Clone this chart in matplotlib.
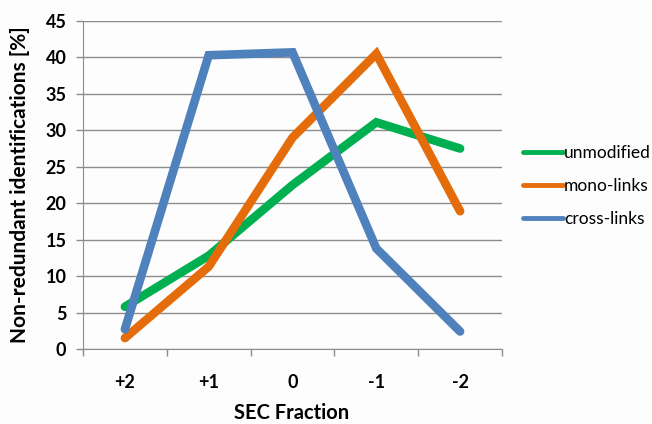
import matplotlib
matplotlib.use("Agg")
import matplotlib.pyplot as plt
import numpy as np

# SEC fractions
fractions = ["+2", "+1", "0", "-1", "-2"]

unmodified = [5.8, 12.8, 22.5, 31.1, 27.5]
mono_links = [1.5, 11.3, 29.0, 40.5, 18.9]
cross_links = [2.7, 40.3, 40.7, 13.8, 2.4]

series_names = ["unmodified", "mono-links", "cross-links"]
colors = ["#00B050", "#E46C0A", "#4F81BD"]

plt.rcParams["font.family"] = ["Lato", "DejaVu Sans"]

fig = plt.figure(figsize=(6.52, 4.24), dpi=100)
fig.patch.set_facecolor("#FDFDFD")
ax = fig.add_axes([83 / 652, 1 - 349 / 424, (502 - 83) / 652, (349 - 21) / 424])
ax.set_facecolor("#FDFDFD")

x = np.arange(len(fractions))
for vals, name, c in zip([unmodified, mono_links, cross_links], series_names, colors):
    ax.plot(x, vals, color=c, lw=6.2, label=name, solid_capstyle="round",
            solid_joinstyle="miter", zorder=3)

ax.set_xlim(-0.5, len(fractions) - 0.5)
ax.set_ylim(0, 45)
ax.set_yticks(range(0, 46, 5))
ax.yaxis.grid(True, color="#8C8C8C", lw=1)
ax.set_axisbelow(True)

# category labels in the middle, tick marks at the boundaries
ax.set_xticks(x)
ax.set_xticklabels(fractions, fontsize=13, fontweight="bold")
ax.tick_params(axis="x", length=0, pad=18)
ax.set_xticks(np.arange(-0.5, len(fractions), 1), minor=True)
ax.tick_params(axis="x", which="minor", length=5, color="#8C8C8C", width=1)
ax.tick_params(axis="y", length=5, color="#8C8C8C", width=1, labelsize=13, pad=7)
for lbl in ax.get_yticklabels():
    lbl.set_fontweight("bold")

for side in ["top", "right"]:
    ax.spines[side].set_visible(False)
for side in ["left", "bottom"]:
    ax.spines[side].set_color("#8C8C8C")

fig.text(292 / 652, 1 - 413 / 424, "SEC Fraction", fontsize=14.5, fontweight="bold",
         ha="center", va="center")
fig.text(20 / 652, 1 - 185 / 424, "Non-redundant identifications [%]", fontsize=15,
         fontweight="bold", rotation=90, ha="center", va="center")

leg = fig.legend(*ax.get_legend_handles_labels(), loc="center left",
                 bbox_to_anchor=(523 / 652, 1 - 186 / 424), frameon=False,
                 fontsize=12.5, handlelength=2.3, handletextpad=0.05,
                 labelspacing=1.0, borderpad=0, borderaxespad=0)
for h in leg.get_lines():
    h.set_linewidth(3.5)

fig.savefig("out.png", dpi=100, facecolor=fig.get_facecolor())
